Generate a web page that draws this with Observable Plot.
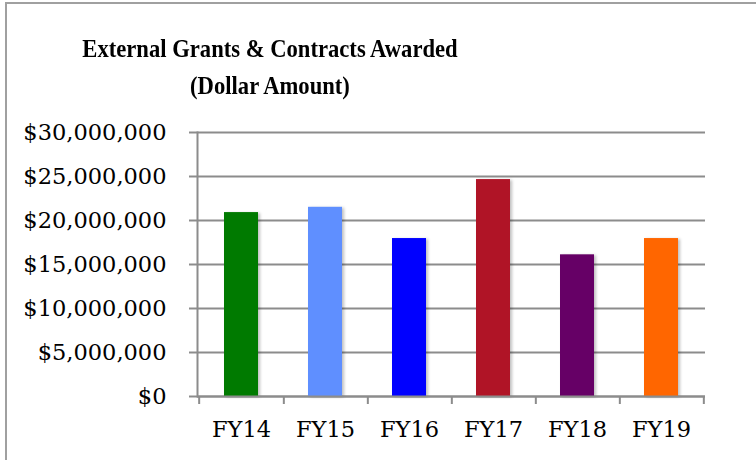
<!DOCTYPE html>
<html>
<head>
<meta charset="utf-8">
<script src="https://cdn.jsdelivr.net/npm/d3@7"></script>
<script src="https://cdn.jsdelivr.net/npm/@observablehq/plot@0.6"></script>
<style>
  html, body { margin: 0; padding: 0; background: #fff; width: 756px; height: 460px; overflow: hidden; }
  #wrap { position: relative; width: 756px; height: 460px; }
  #frame { position: absolute; left: 5px; top: 2px; width: 800px; height: 600px; border: 2px solid #a0a0a0; box-sizing: border-box; pointer-events: none; }
  #title { position: absolute; left: 0; top: 30px; width: 540px; text-align: center; font-family: "Liberation Serif", serif; font-weight: bold; font-size: 26px; line-height: 37px; color: #000; transform: scaleX(0.87); transform-origin: 270px 0; }
  #chart { position: absolute; left: 0; top: 0; }
  #chart g[aria-label="bar"] rect { filter: drop-shadow(2px 1px 1.5px rgba(0,0,0,0.25)); }
</style>
</head>
<body>
<div id="wrap">
  <div id="chart"></div>
  <div id="title">External Grants &amp; Contracts Awarded<br>(Dollar Amount)</div>
  <div id="frame"></div>
</div>
<script>
const years = ["FY14", "FY15", "FY16", "FY17", "FY18", "FY19"];
const amounts = [20900000, 21500000, 17950000, 24650000, 16100000, 17950000];
const colors = ["#007A00", "#5F8FFF", "#0000FF", "#B01426", "#660066", "#FF6600"];
const yTicks = [0, 5000000, 10000000, 15000000, 20000000, 25000000, 30000000];

const data = years.map((y, i) => ({year: y, amount: amounts[i], color: colors[i]}));

const W = 756, H = 460, ML = 197, MR = 51, MT = 132, MB = 64;
const step = (W - ML - MR) / years.length;
const lineColor = "#8c8c8c";

const chart = Plot.plot({
  width: W, height: H,
  marginLeft: ML, marginRight: MR, marginTop: MT, marginBottom: MB,
  style: {fontFamily: "DejaVu Serif", fontSize: "22.5px", color: "#000", background: "transparent", overflow: "visible"},
  x: {domain: years, paddingInner: 0.6, paddingOuter: 0.3, label: null},
  y: {domain: [0, 30000000], label: null},
  marks: [
    Plot.gridY(yTicks, {stroke: lineColor, strokeOpacity: 1, strokeWidth: 2}),
    Plot.axisY(yTicks, {tickSize: 8, tickPadding: 23, tickFormat: d => "$" + d3.format(",")(d), stroke: lineColor, strokeWidth: 2, fill: "#000", label: null}),
    Plot.barY(data, {x: "year", y: "amount", fill: "color"}),
    Plot.ruleY([0], {stroke: lineColor, strokeWidth: 2}),
    Plot.frame({anchor: "left", stroke: lineColor, strokeWidth: 2}),
    Plot.axisX({tickSize: 8, tickPadding: 0, tickFormat: () => "", dx: step / 2, stroke: lineColor, strokeWidth: 2, label: null}),
    Plot.axisX([years[0]], {tickSize: 8, tickPadding: 0, tickFormat: () => "", dx: -step / 2, stroke: lineColor, strokeWidth: 2, label: null}),
    Plot.axisX({tickSize: 0, tickPadding: 25, fill: "#000", label: null})
  ]
});
document.getElementById("chart").appendChild(chart);
</script>
</body>
</html>
